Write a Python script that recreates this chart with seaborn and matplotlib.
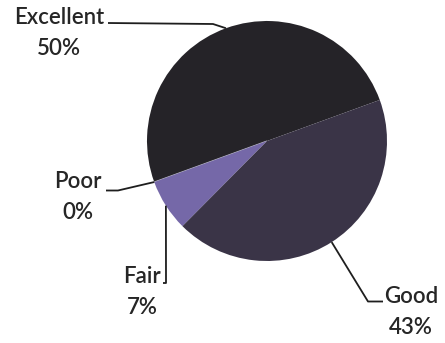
import numpy as np
import matplotlib
matplotlib.use("Agg")
import matplotlib.pyplot as plt
import seaborn as sns

# Survey ratings
categories = ["Excellent", "Poor", "Fair", "Good"]
shares = [50, 0, 7, 43]
wedge_colors = ["#252328", "#c8c8d0", "#7568a8", "#3a3447"]

sns.set_theme(style="white")
plt.rcParams["font.family"] = ["Lato", "DejaVu Sans"]

W, H = 445, 343
fig = plt.figure(figsize=(W / 100, H / 100), dpi=100)
ax = fig.add_axes([0, 0, 1, 1])

# pixel frame: pie centre and radius in pixels
cx, cy, R = 267.0, 141.0, 120.0


def px(x, y):
    """Convert pixel position (from top-left) to data units."""
    return (x - cx) / R, (cy - y) / R


wedges, _ = ax.pie(
    shares,
    colors=wedge_colors,
    startangle=20,
    counterclock=True,
    radius=1.0,
    wedgeprops=dict(linewidth=0),
)
# the empty slice shows only as a faint divider line
wedges[1].set_edgecolor("#b8b8c4")
wedges[1].set_linewidth(0.8)

ax.set_xlim(-cx / R, (W - cx) / R)
ax.set_ylim((cy - H) / R, cy / R)
ax.set_aspect("auto")
ax.axis("off")

# label layout: text centre (px), leader elbow points (px)
layout = {
    "Excellent": dict(text=(59, 33), path=[(108, 23), (213, 24)]),
    "Poor": dict(text=(78, 197), path=[(106, 190.5), (118, 190.5)]),
    "Fair": dict(text=(142, 292), path=[(163, 283), (166, 283)]),
    "Good": dict(text=(411, 312), path=[(383, 301.5), (368, 301.5)]),
}

txt_color = "#262626"
for w, name, val in zip(wedges, categories, shares):
    mid = np.deg2rad((w.theta1 + w.theta2) / 2)
    anchor = (np.cos(mid) * 1.0, np.sin(mid) * 1.0)
    lay = layout[name]
    pts = [px(*p) for p in lay["path"]] + [anchor]
    xs, ys = zip(*pts)
    ax.plot(xs, ys, color="#1e1e1e", lw=1.3, solid_capstyle="butt", zorder=3)
    tx, ty = px(*lay["text"])
    ax.text(tx, ty, f"{name}\n{val}%", ha="center", va="center",
            fontsize=16, fontweight="semibold", color=txt_color,
            linespacing=1.6)

fig.savefig("out.png", dpi=100, facecolor="white")
